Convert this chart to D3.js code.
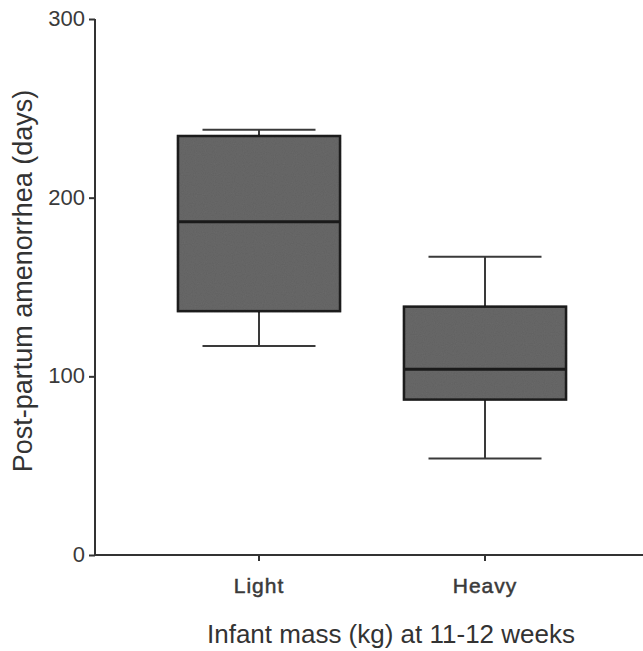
<!DOCTYPE html>
<html lang="en">
<head>
<meta charset="utf-8">
<style>
body {
  margin: 0;
  background: #fff;
  font-family: 'Liberation Sans', Arial, sans-serif;
}
.axis path, .axis line {
  stroke: #333;
  stroke-width: 2;
}
.axis text {
  fill: #3a3a3a;
  font-size: 22px;
}
.box {
  fill: #6a6a6a;
  stroke: #222;
  stroke-width: 2.5;
}
.whisker {
  stroke: #3a3a3a;
  stroke-width: 2;
}
.median {
  stroke: #1a1a1a;
  stroke-width: 3;
}
.title {
  fill: #333;
}
</style>
<script src="https://cdn.jsdelivr.net/npm/d3@7"></script>
</head>
<body>
<div id="chart"></div>
<script>
// data
var categories = ["Light", "Heavy"];
var whiskerLow = [117, 54];
var q1 = [136.5, 87];
var median = [186.5, 104];
var q3 = [234.5, 139];
var whiskerHigh = [238, 167];
var yTicks = [0, 100, 200, 300];

var w = 643, h = 651;

var svg = d3.select("#chart").append("svg")
  .attr("width", w)
  .attr("height", h);

// speckled fill like the scanned print
var defs = svg.append("defs");
var filt = defs.append("filter").attr("id", "grain");
filt.append("feTurbulence")
  .attr("type", "fractalNoise")
  .attr("baseFrequency", 0.9)
  .attr("numOctaves", 1)
  .attr("result", "noise");
filt.append("feColorMatrix")
  .attr("in", "noise")
  .attr("type", "matrix")
  .attr("values", "0 0 0 0 0  0 0 0 0 0  0 0 0 0 0  0 0 0 0.18 0")
  .attr("result", "dots");
filt.append("feComposite")
  .attr("in", "dots")
  .attr("in2", "SourceGraphic")
  .attr("operator", "in")
  .attr("result", "dotsIn");
var merge = filt.append("feMerge");
merge.append("feMergeNode").attr("in", "SourceGraphic");
merge.append("feMergeNode").attr("in", "dotsIn");

var x = d3.scaleBand()
  .domain(categories)
  .range([146, 598]);

var y = d3.scaleLinear()
  .domain([0, 300])
  .range([555, 19]);

var boxW = x.bandwidth() * 0.717;
var capW = x.bandwidth() * 0.5;

// y axis
var yAxis = svg.append("g")
  .attr("class", "axis")
  .attr("transform", "translate(95,0)")
  .call(d3.axisLeft(y).tickValues(yTicks).tickSize(6).tickSizeOuter(0).tickPadding(4));
yAxis.select(".domain").attr("d", "M0," + y(300) + "V" + y(0));
yAxis.selectAll("text").attr("dy", "0.3em");

// x axis
var xAxis = svg.append("g")
  .attr("class", "axis")
  .attr("transform", "translate(0,555)")
  .call(d3.axisBottom(x).tickSize(6).tickSizeOuter(0).tickPadding(17));
xAxis.select(".domain").attr("d", "M95,0H643");
xAxis.selectAll("text")
  .style("font-size", "21px")
  .style("letter-spacing", "1px")
  .style("stroke", "#3a3a3a")
  .style("stroke-width", "0.5px");

var groups = svg.selectAll("g.boxplot")
  .data(categories)
  .enter()
  .append("g")
  .attr("class", "boxplot");

function cx(d) { return x(d) + x.bandwidth() / 2; }

// whiskers
groups.append("line")
  .attr("class", "whisker")
  .attr("x1", cx).attr("x2", cx)
  .attr("y1", function(d, i){ return y(whiskerHigh[i]); })
  .attr("y2", function(d, i){ return y(whiskerLow[i]); });

groups.append("line")
  .attr("class", "whisker")
  .attr("x1", function(d){ return cx(d) - capW / 2; })
  .attr("x2", function(d){ return cx(d) + capW / 2; })
  .attr("y1", function(d, i){ return y(whiskerHigh[i]); })
  .attr("y2", function(d, i){ return y(whiskerHigh[i]); });

groups.append("line")
  .attr("class", "whisker")
  .attr("x1", function(d){ return cx(d) - capW / 2; })
  .attr("x2", function(d){ return cx(d) + capW / 2; })
  .attr("y1", function(d, i){ return y(whiskerLow[i]); })
  .attr("y2", function(d, i){ return y(whiskerLow[i]); });

// boxes
groups.append("rect")
  .attr("class", "box")
  .attr("x", function(d){ return cx(d) - boxW / 2; })
  .attr("y", function(d, i){ return y(q3[i]); })
  .attr("width", boxW)
  .attr("height", function(d, i){ return y(q1[i]) - y(q3[i]); })
  .style("filter", "url(#grain)");

groups.append("line")
  .attr("class", "median")
  .attr("x1", function(d){ return cx(d) - boxW / 2; })
  .attr("x2", function(d){ return cx(d) + boxW / 2; })
  .attr("y1", function(d, i){ return y(median[i]); })
  .attr("y2", function(d, i){ return y(median[i]); });

// titles
svg.append("text")
  .attr("class", "title")
  .attr("x", 391)
  .attr("y", 643)
  .attr("text-anchor", "middle")
  .style("font-size", "26px")
  .text("Infant mass (kg) at 11-12 weeks");

svg.append("text")
  .attr("class", "title")
  .attr("transform", "translate(32,281) rotate(-90)")
  .attr("text-anchor", "middle")
  .style("font-size", "27px")
  .text("Post-partum amenorrhea (days)");
</script>
</body>
</html>
